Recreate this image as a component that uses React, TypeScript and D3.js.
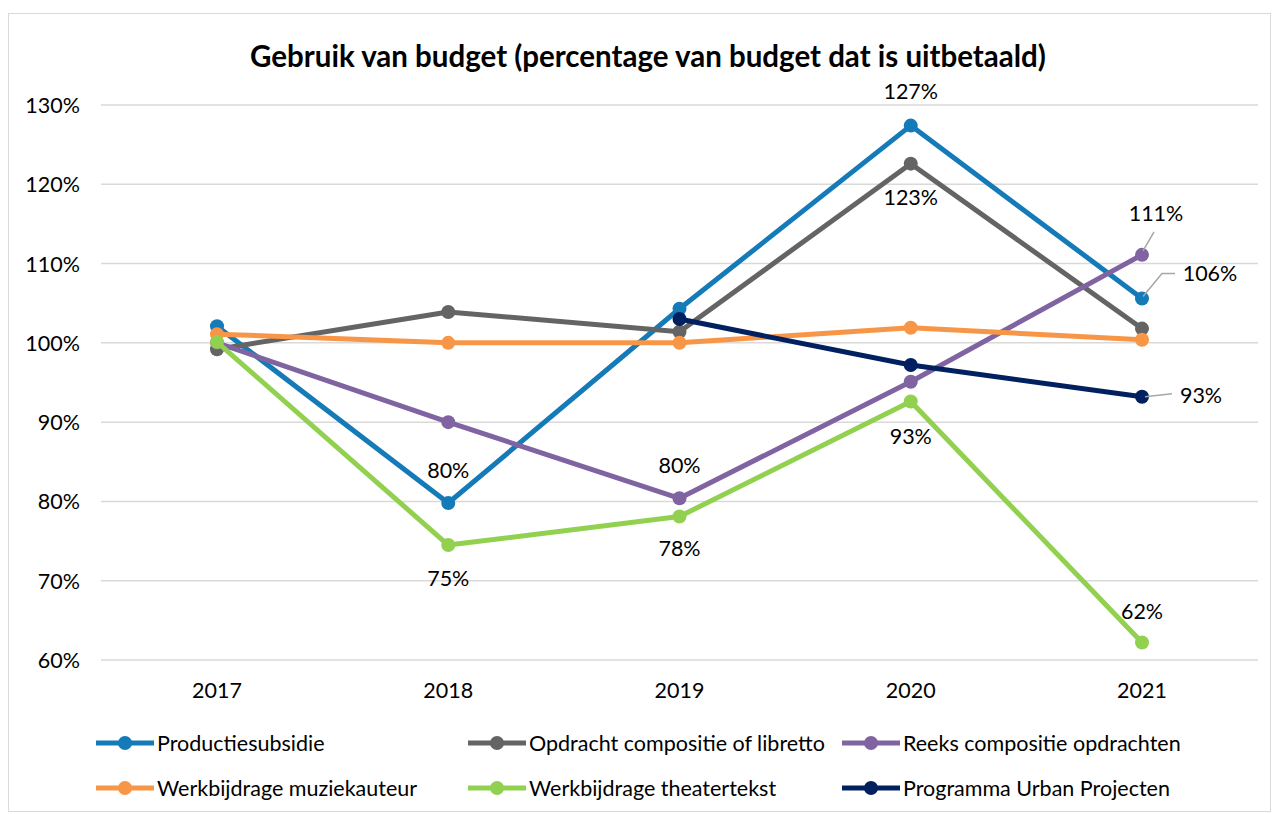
import React from 'react';
import * as d3 from 'd3';

const years = ['2017', '2018', '2019', '2020', '2021'];
const yTicks = [0.6, 0.7, 0.8, 0.9, 1.0, 1.1, 1.2, 1.3];

const productie = [1.021, 0.798, 1.043, 1.274, 1.056];
const opdracht = [0.992, 1.039, 1.014, 1.226, 1.018];
const reeks = [1.0, 0.90, 0.804, 0.951, 1.111];
const muziek = [1.011, 1.0, 1.0, 1.019, 1.004];
const theater = [1.001, 0.745, 0.781, 0.926, 0.622];
const urban = [null, null, 1.03, 0.972, 0.932];

const series = [
  { name: 'Productiesubsidie', color: '#157ab8', values: productie },
  { name: 'Opdracht compositie of libretto', color: '#646464', values: opdracht },
  { name: 'Reeks compositie opdrachten', color: '#8064a2', values: reeks },
  { name: 'Werkbijdrage muziekauteur', color: '#f79646', values: muziek },
  { name: 'Werkbijdrage theatertekst', color: '#92d050', values: theater },
  { name: 'Programma Urban Projecten', color: '#002060', values: urban },
];

// data labels: series index, year index, offset from the point
const labels = [
  { s: 0, i: 3, dx: 0, dy: -27 },
  { s: 1, i: 3, dx: 0, dy: 41 },
  { s: 0, i: 1, dx: 0, dy: -25 },
  { s: 2, i: 2, dx: 0, dy: -25 },
  { s: 4, i: 1, dx: 0, dy: 41 },
  { s: 4, i: 2, dx: 0, dy: 40 },
  { s: 4, i: 3, dx: 0, dy: 42 },
  { s: 4, i: 4, dx: 0, dy: -24 },
  { s: 2, i: 4, dx: 14, dy: -34 },
  { s: 0, i: 4, dx: 68, dy: -17 },
  { s: 5, i: 4, dx: 59, dy: 6 },
];

const font = 'Lato, "Open Sans", sans-serif';

export default function App() {
  const W = 1274, H = 814;
  const left = 101, right = 1258, top = 105, bottom = 660;
  const x = d3.scalePoint().domain(years).range([217, 1142]);
  const y = d3.scaleLinear().domain([0.6, 1.3]).range([bottom, top]);
  const fmt = d3.format('.0%');

  const line = d3.line<number | null>()
    .defined(d => d != null)
    .x((_, i) => x(years[i])!)
    .y(d => y(d as number));

  const px = x('2021')!;
  const leader = (s: number, pts: [number, number][]) => {
    const py = y(series[s].values[4] as number);
    return pts.map(([a, b]) => `${px + a},${py + b}`).join(' ');
  };

  return (
    <svg width={W} height={H} style={{ position: 'absolute', left: 0, top: 0, background: '#fff' }}>
      <rect x={8.5} y={13.5} width={1262} height={798} fill="#fff" stroke="#d9d9d9" />
      <text x={648} y={67} textAnchor="middle" fontFamily={font} fontWeight="bold" fontSize={29.5} fill="#000">
        Gebruik van budget (percentage van budget dat is uitbetaald)
      </text>
      {yTicks.map(t => (
        <g key={t}>
          <line x1={left} x2={right} y1={y(t)} y2={y(t)} stroke="#d9d9d9" strokeWidth={1.5} />
          <text x={80} y={y(t) + 8} textAnchor="end" fontFamily={font} fontSize={21.5} fill="#000">{fmt(t)}</text>
        </g>
      ))}
      {years.map(yr => (
        <text key={yr} x={x(yr)} y={698} textAnchor="middle" fontFamily={font} fontSize={21.5} fill="#000">{yr}</text>
      ))}
      {series.map(s => (
        <g key={s.name}>
          <path d={line(s.values) || ''} fill="none" stroke={s.color} strokeWidth={5} strokeLinejoin="round" />
          {s.values.map((v, i) => v == null ? null : (
            <circle key={i} cx={x(years[i])} cy={y(v)} r={7} fill={s.color} />
          ))}
        </g>
      ))}
      <polyline points={leader(2, [[1, -4], [12, -23]])} fill="none" stroke="#a6a6a6" strokeWidth={1.5} />
      <polyline points={leader(0, [[1, -2], [20, -25], [33, -25]])} fill="none" stroke="#a6a6a6" strokeWidth={1.5} />
      <polyline points={leader(5, [[3, 0], [30, -3]])} fill="none" stroke="#a6a6a6" strokeWidth={1.5} />
      {labels.map((l, k) => {
        const v = series[l.s].values[l.i] as number;
        const cx = x(years[l.i])! + l.dx;
        const cy = y(v) + l.dy;
        return (
          <text key={k} x={cx} y={cy} textAnchor="middle" fontFamily={font} fontSize={21.5} fill="#000">{fmt(v)}</text>
        );
      })}
      {series.map((s, k) => {
        const col = k % 3;
        const row = Math.floor(k / 3);
        const lx = [96, 468, 842][col];
        const ly = 743 + row * 45;
        return (
          <g key={s.name}>
            <line x1={lx} x2={lx + 58} y1={ly} y2={ly} stroke={s.color} strokeWidth={5} />
            <circle cx={lx + 29} cy={ly} r={7} fill={s.color} />
            <text x={lx + 61} y={ly + 8} fontFamily={font} fontSize={21.5} fill="#000">{s.name}</text>
          </g>
        );
      })}
    </svg>
  );
}
